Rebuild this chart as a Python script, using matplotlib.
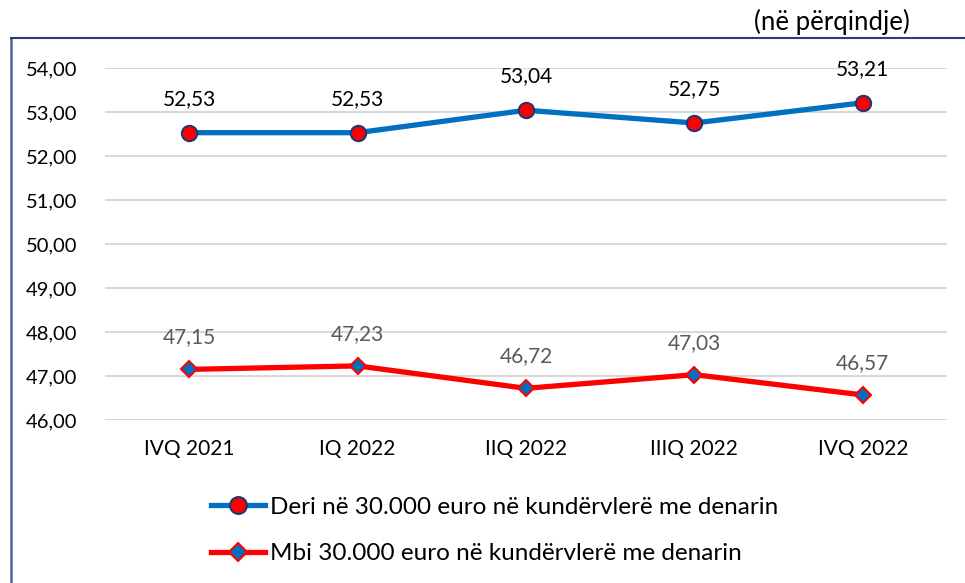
import matplotlib
matplotlib.use("Agg")
import matplotlib.pyplot as plt
from matplotlib.lines import Line2D

categories = ["IVQ 2021", "IQ 2022", "IIQ 2022", "IIIQ 2022", "IVQ 2022"]
deri = [52.53, 52.53, 53.04, 52.75, 53.21]
mbi = [47.15, 47.23, 46.72, 47.03, 46.57]
yticks = [46, 47, 48, 49, 50, 51, 52, 53, 54]
label_deri = "Deri në 30.000 euro në kundërvlerë me denarin"
label_mbi = "Mbi 30.000 euro në kundërvlerë me denarin"
unit_text = "(në përqindje)"

plt.rcParams['font.family'] = ['Lato', 'DejaVu Sans']

W, H = 965, 583
fig = plt.figure(figsize=(W / 100, H / 100), dpi=100)

# outer frame (left and top lines)
fig.add_artist(Line2D([11 / W, 11 / W], [0, 1 - 38 / H], color="#4A6298", lw=1.8,
                      transform=fig.transFigure))
fig.add_artist(Line2D([11 / W, 1], [1 - 38 / H, 1 - 38 / H], color="#2B3F73", lw=1.5,
                      transform=fig.transFigure))

fig.text(910 / W, 1 - 22 / H, unit_text, ha="right", va="center", fontsize=18.5, color="#000000")

ax = fig.add_axes([105 / W, 1 - 420 / H, (947 - 105) / W, (420 - 68) / H])
x = list(range(len(categories)))

ax.plot(x, deri, color="#0070C0", lw=3.8, marker="o", markersize=11,
        markerfacecolor="#FF0000", markeredgecolor="#1F3870", markeredgewidth=1.5,
        label=label_deri, zorder=3)
ax.plot(x, mbi, color="#FF0000", lw=3.8, marker="D", markersize=8.5,
        markerfacecolor="#0070C0", markeredgecolor="#FF0000", markeredgewidth=1.5,
        label=label_mbi, zorder=3)

for xi, v in zip(x, deri):
    ax.annotate(f"{v:.2f}".replace(".", ","), (xi, v), xytext=(0, 24.5), textcoords="offset points",
                ha="center", va="center", fontsize=15, color="#000000")
for xi, v in zip(x, mbi):
    ax.annotate(f"{v:.2f}".replace(".", ","), (xi, v), xytext=(0, 23), textcoords="offset points",
                ha="center", va="center", fontsize=15, color="#595959")

ax.set_xlim(-0.5, len(categories) - 0.5)
ax.set_ylim(46, 54)
ax.set_yticks(yticks)
ax.set_yticklabels([f"{t:.2f}".replace(".", ",") for t in yticks], fontsize=14.5)
ax.set_xticks(x)
ax.set_xticklabels(categories, fontsize=15)
ax.tick_params(axis="y", length=0, pad=20)
ax.tick_params(axis="x", length=0, pad=14)
ax.grid(axis="y", color="#D9D9D9", lw=1.5)
ax.set_axisbelow(True)
for s in ax.spines.values():
    s.set_visible(False)

leg = fig.legend(handles=ax.get_lines(), loc="upper left", bbox_to_anchor=(201 / W, 1 - 487 / H),
                 frameon=False, fontsize=17.5, handlelength=2.25, handletextpad=0.2,
                 labelspacing=1.05, borderaxespad=0, markerscale=1.1)

fig.savefig("out.png", dpi=100)
